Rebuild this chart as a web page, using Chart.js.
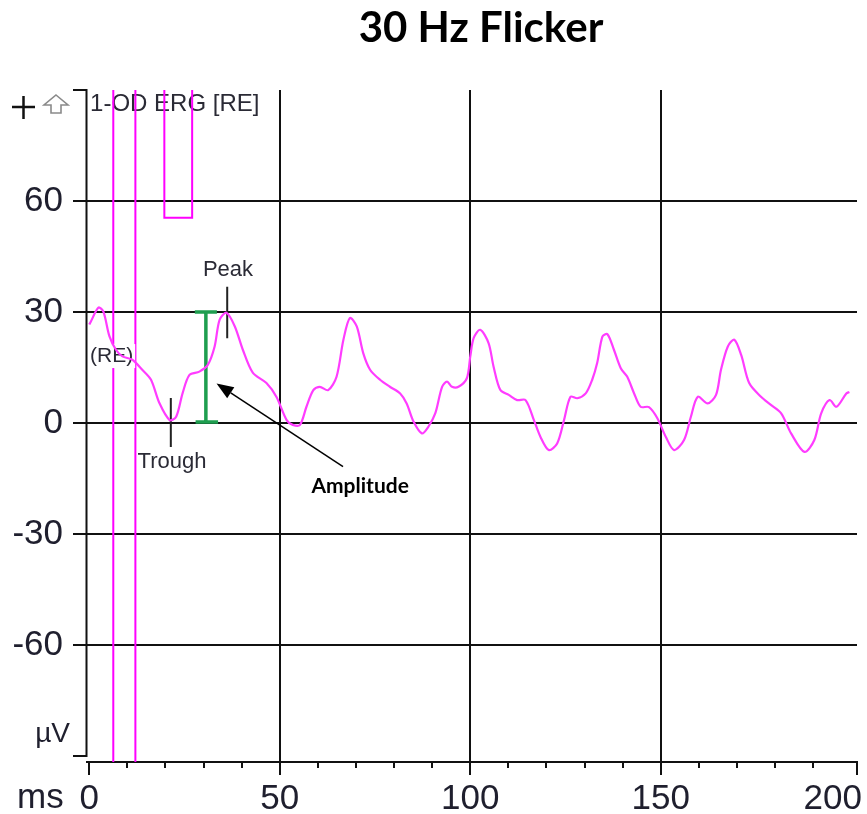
<!DOCTYPE html>
<html><head><meta charset="utf-8">
<script src="https://cdn.jsdelivr.net/npm/chart.js@4"></script>
<style>html,body{margin:0;padding:0;background:#fff;overflow:hidden}canvas{display:block}</style>
</head><body>
<canvas id="c" width="867" height="814"></canvas>
<script>
// ---- data (ms, µV) ----
const waveMs = [0,0.45,2.4,3.7,5.3,7.0,8.7,11.3,13.9,16.2,18.4,21.1,22.8,24.5,26.3,28.9,31.1,32.9,34.2,36.0,38.2,40.3,42.9,46.5,49.1,51.8,53.4,55.3,57.0,58.8,60.5,62.7,64.9,66.7,68.4,70.2,71.9,73.7,76.3,78.9,81.6,83.3,85.1,87.3,89.0,90.8,92.6,93.9,95.2,96.9,99.1,100.0,100.9,102.6,104.8,106.1,107.9,110.1,112.3,114.5,116.7,118.4,120.6,122.8,124.6,126.3,128.1,130.3,132.0,133.3,134.7,136.0,137.7,139.5,141.2,143.0,144.7,146.9,149.1,151.3,153.5,156.1,157.9,159.7,162.3,164.5,165.8,167.6,169.3,171.1,173.2,176.3,178.9,181.6,184.2,187.7,190.3,192.1,194.3,196.1,198.7,199.5];
const waveUv = [26.6,27.5,31.2,30.1,23.4,19.8,18.0,17.1,14.4,11.7,5.4,0.8,1.7,8.1,13.0,13.9,15.7,20.7,27.9,29.8,26.1,19.8,13.6,10.8,7.1,0.8,-0.5,-0.5,4.4,8.9,9.8,8.9,12.5,22.5,28.4,26.1,18.9,14.4,11.7,9.8,8.0,5.3,0.4,-2.8,-1.0,2.6,9.8,11.2,9.8,9.8,12.1,18.0,23.0,25.2,21.6,15.3,8.9,7.6,6.2,6.2,0.8,-3.7,-7.3,-5.5,0.8,7.1,6.7,8.0,11.7,16.2,23.4,24.0,19.8,14.8,12.5,8.0,4.4,4.3,1.3,-3.7,-7.3,-4.6,1.7,7.1,5.3,7.6,14.4,20.7,22.5,18.4,10.8,7.1,4.9,2.6,-2.8,-7.8,-4.6,2.6,6.2,4.4,8.0,8.4];

const stimLineMs = [6.3, 12.1];        // stimulus marker lines
const stimBoxMs = [19.7, 27.0];        // stimulus box edges
const stimBoxUv = 55.5;                // stimulus box bottom

const peakMarker = {ms: 36.2, uv: [36.8, 22.9]};
const troughMarker = {ms: 21.4, uv: [6.8, -6.5]};
const ampBar = {ms: 30.6, halfWidthMs: 2.9, uv: [30.0, 0.3]};

const xMin = -0.6, xMax = 201.5;
const yMin = -91.6, yMax = 90;
const xTickValues = [0,10,20,30,40,50,60,70,80,90,100,110,120,130,140,150,160,170,180,190,201.5];
const xMajorValues = [0,50,100,150,201.5];
const xMajorLabels = ['0','50','100','150','200'];
const xGridValues = [50,100,150];
const yTickValues = [-90,-60,-30,0,30,60,90];
const yLabelValues = [-60,-30,0,30,60];

const FONT = '"Liberation Sans", Arial, sans-serif';

const decor = {
  id: 'decor',
  afterLayout(chart) {
    if (chart.titleBlock) { chart.titleBlock.left += 9; chart.titleBlock.right += 9; }
  },
  beforeDatasetsDraw(chart) {
    const {ctx, chartArea, scales: {x, y}} = chart;
    ctx.save();
    // y axis line
    ctx.strokeStyle = '#111'; ctx.lineWidth = 2;
    const ax = chartArea.left - 0.5;
    ctx.beginPath();
    ctx.moveTo(ax, y.getPixelForValue(90) - 1);
    ctx.lineTo(ax, y.getPixelForValue(-90) + 1);
    ctx.stroke();
    // header text
    ctx.fillStyle = '#2a2a35';
    ctx.font = '24px ' + FONT;
    ctx.textAlign = 'left'; ctx.textBaseline = 'middle';
    ctx.fillText('1-OD ERG [RE]', x.getPixelForValue(0.2), y.getPixelForValue(86));
    // + icon
    ctx.strokeStyle = '#111'; ctx.lineWidth = 2.5;
    ctx.beginPath();
    ctx.moveTo(12, 107); ctx.lineTo(35, 107);
    ctx.moveTo(23.5, 96); ctx.lineTo(23.5, 119);
    ctx.stroke();
    // up arrow outline icon
    ctx.strokeStyle = '#8a8a8a'; ctx.lineWidth = 1.6;
    ctx.beginPath();
    ctx.moveTo(56, 95); ctx.lineTo(68, 105); ctx.lineTo(61, 105); ctx.lineTo(61, 113);
    ctx.lineTo(51, 113); ctx.lineTo(51, 105); ctx.lineTo(44, 105); ctx.closePath();
    ctx.stroke();
    // unit labels
    ctx.fillStyle = '#1f1f2e';
    ctx.font = '28px ' + FONT;
    ctx.textAlign = 'right'; ctx.textBaseline = 'alphabetic';
    ctx.fillText('µV', chartArea.left - 17, y.getPixelForValue(-90) - 14);
    ctx.font = '35px ' + FONT;
    ctx.textAlign = 'left';
    ctx.fillText('ms', 17, 808);
    ctx.restore();
  },
  beforeDatasetDraw(chart, args) {
    if (args.index !== 0) return;
    const {ctx, scales: {x, y}} = chart;
    ctx.save();
    const px = x.getPixelForValue(0.2), py = y.getPixelForValue(18.1);
    ctx.font = '21px ' + FONT;
    const w = ctx.measureText('(RE)').width;
    ctx.fillStyle = '#fff';
    ctx.fillRect(px - 1, py - 12, w + 3, 24);
    ctx.fillStyle = '#2a2a35';
    ctx.textAlign = 'left'; ctx.textBaseline = 'middle';
    ctx.fillText('(RE)', px, py);
    ctx.restore();
  },
  afterDatasetsDraw(chart) {
    const {ctx, scales: {x, y}} = chart;
    ctx.save();
    ctx.fillStyle = '#2a2a35';
    ctx.font = '22px ' + FONT;
    ctx.textAlign = 'center'; ctx.textBaseline = 'middle';
    ctx.fillText('Peak', x.getPixelForValue(36.4), y.getPixelForValue(41.3));
    ctx.fillText('Trough', x.getPixelForValue(21.7), y.getPixelForValue(-10.5));
    ctx.fillStyle = '#000';
    ctx.font = 'bold 21px Lato, "Open Sans", sans-serif';
    ctx.fillText('Amplitude', x.getPixelForValue(71.1), y.getPixelForValue(-17.0));
    // arrow
    const tx = x.getPixelForValue(33.4), ty = y.getPixelForValue(10.7);
    const sx = x.getPixelForValue(66.6), sy = y.getPixelForValue(-11.8);
    const ang = Math.atan2(ty - sy, tx - sx);
    const L = 17, H = 6.5;
    const bx = tx - L * Math.cos(ang), by = ty - L * Math.sin(ang);
    ctx.strokeStyle = '#000'; ctx.lineWidth = 1.5;
    ctx.beginPath(); ctx.moveTo(sx, sy); ctx.lineTo(bx, by); ctx.stroke();
    ctx.beginPath();
    ctx.moveTo(tx, ty);
    ctx.lineTo(bx + H * Math.sin(ang), by - H * Math.cos(ang));
    ctx.lineTo(bx - H * Math.sin(ang), by + H * Math.cos(ang));
    ctx.closePath();
    ctx.fillStyle = '#000'; ctx.fill();
    ctx.restore();
  }
};

const pts = (xs, ys) => xs.map((v, i) => ({x: v, y: ys[i]}));

const datasets = [
  {
    label: 'ERG', data: pts(waveMs, waveUv),
    borderColor: '#ff3cff', borderWidth: 2.2, pointRadius: 0, tension: 0.3, order: 0
  },
  {
    label: 'peak', data: [{x: peakMarker.ms, y: peakMarker.uv[0]}, {x: peakMarker.ms, y: peakMarker.uv[1]}],
    borderColor: '#222', borderWidth: 2, pointRadius: 0, order: 0
  },
  {
    label: 'trough', data: [{x: troughMarker.ms, y: troughMarker.uv[0]}, {x: troughMarker.ms, y: troughMarker.uv[1]}],
    borderColor: '#222', borderWidth: 2, pointRadius: 0, order: 0
  },
  {
    label: 'amp', data: [
      {x: ampBar.ms - ampBar.halfWidthMs, y: ampBar.uv[0]}, {x: ampBar.ms + ampBar.halfWidthMs, y: ampBar.uv[0]},
      {x: ampBar.ms + ampBar.halfWidthMs + 0.1, y: null},
      {x: ampBar.ms, y: ampBar.uv[0]}, {x: ampBar.ms, y: ampBar.uv[1]},
      {x: ampBar.ms + 0.1, y: null},
      {x: ampBar.ms - ampBar.halfWidthMs + 0.2, y: ampBar.uv[1]}, {x: ampBar.ms + ampBar.halfWidthMs + 0.3, y: ampBar.uv[1]}
    ],
    borderColor: '#1e9e4f', borderWidth: 3.5, pointRadius: 0, spanGaps: false, order: 0
  },
  {
    label: 'stim1', data: [{x: stimLineMs[0], y: 100}, {x: stimLineMs[0], y: -100}],
    borderColor: '#ff00ff', borderWidth: 2, pointRadius: 0, order: 1
  },
  {
    label: 'stim2', data: [{x: stimLineMs[1], y: 100}, {x: stimLineMs[1], y: -100}],
    borderColor: '#ff00ff', borderWidth: 2, pointRadius: 0, order: 1
  },
  {
    label: 'stimBox', data: [
      {x: stimBoxMs[0], y: 100}, {x: stimBoxMs[0], y: stimBoxUv},
      {x: stimBoxMs[1], y: stimBoxUv}, {x: stimBoxMs[1], y: 100}
    ],
    borderColor: '#ff00ff', borderWidth: 2, pointRadius: 0, order: 1
  }
];

new Chart(document.getElementById('c'), {
  type: 'line',
  data: {datasets},
  plugins: [decor],
  options: {
    responsive: false,
    animation: false,
    devicePixelRatio: 1,
    layout: {padding: {top: 0, right: 10, bottom: 0, left: 0}},
    plugins: {
      legend: {display: false},
      tooltip: {enabled: false},
      title: {
        display: true, text: '30 Hz Flicker', fullSize: false, color: '#000',
        font: {family: 'Lato', weight: 'bold', size: 42, lineHeight: 1.2},
        padding: {top: 3, bottom: 36.6}
      }
    },
    scales: {
      x: {
        type: 'linear', position: 'bottom', min: xMin, max: xMax,
        afterBuildTicks: (s) => { s.ticks = xTickValues.map(v => ({value: v})); },
        afterFit: (s) => { s.height = 52; s.paddingLeft = 0; s.paddingRight = 0; },
        border: {display: true, color: '#111', width: 2},
        grid: {
          lineWidth: 2,
          color: (c) => (c.tick && xGridValues.includes(c.tick.value)) ? '#111' : 'rgba(0,0,0,0)',
          drawTicks: true, tickLength: 13, tickWidth: 2, tickColor: '#111',
          tickBorderDash: (c) => (c.tick && xMajorValues.includes(c.tick.value)) ? [] : [5, 40]
        },
        ticks: {
          autoSkip: false, maxRotation: 0, minRotation: 0, padding: 3,
          color: '#1f1f2e', font: {family: 'Liberation Sans', size: 35, lineHeight: 1.2},
          callback: (v) => {
            const i = xMajorValues.indexOf(v);
            if (i < 0) return '';
            return i === xMajorValues.length - 1 ? xMajorLabels[i] + '\u00a0\u00a0\u00a0\u00a0\u00a0' : xMajorLabels[i];
          }
        }
      },
      y: {
        type: 'linear', position: 'left', min: yMin, max: yMax,
        afterBuildTicks: (s) => { s.ticks = yTickValues.map(v => ({value: v})); },
        afterFit: (s) => { s.width = 87; s.paddingTop = 0; s.paddingBottom = 0; },
        border: {display: false},
        grid: {
          lineWidth: 2,
          color: (c) => (c.tick && yLabelValues.includes(c.tick.value)) ? '#111' : 'rgba(0,0,0,0)',
          drawTicks: true, tickLength: 14, tickWidth: 2, tickColor: '#111'
        },
        ticks: {
          autoSkip: false, padding: 10,
          color: '#1f1f2e', font: {family: 'Liberation Sans', size: 35, lineHeight: 1.2},
          callback: (v) => yLabelValues.includes(v) ? String(v) : ''
        }
      }
    }
  }
});
</script>
</body></html>
